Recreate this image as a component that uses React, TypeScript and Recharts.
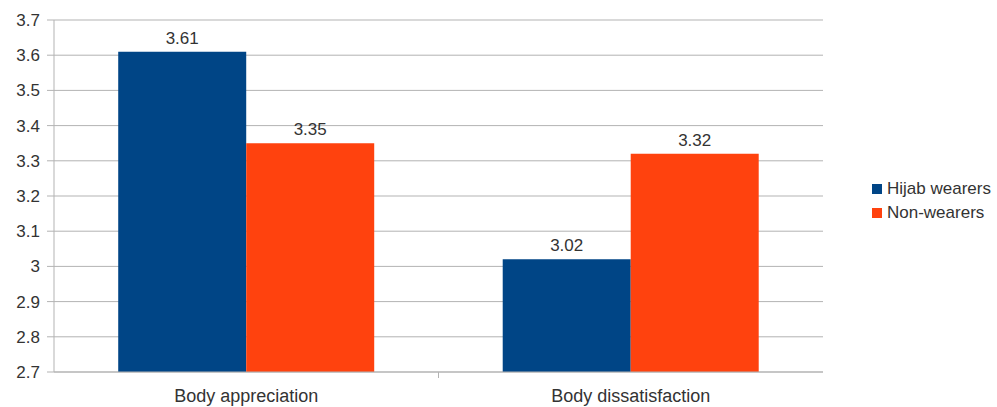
import React from "react";
import {
  BarChart,
  Bar,
  XAxis,
  YAxis,
  CartesianGrid,
  LabelList,
} from "recharts";

/* ------------------------------------------------------------------ */
/*  Data                                                               */
/* ------------------------------------------------------------------ */

const CATEGORIES = ["Body appreciation", "Body dissatisfaction"];
const HIJAB_WEARERS = [3.61, 3.02];
const NON_WEARERS = [3.35, 3.32];
const Y_TICKS = [2.7, 2.8, 2.9, 3, 3.1, 3.2, 3.3, 3.4, 3.5, 3.6, 3.7];

const SERIES = [
  { key: "hijab", name: "Hijab wearers", color: "#004586" },
  { key: "non", name: "Non-wearers", color: "#ff420e" },
];

const data = CATEGORIES.map((category, i) => ({
  category,
  hijab: HIJAB_WEARERS[i],
  non: NON_WEARERS[i],
}));

/* ------------------------------------------------------------------ */
/*  Styling                                                            */
/* ------------------------------------------------------------------ */

const FONT = "'Liberation Sans', Arial, sans-serif";
const TEXT = "#333333";
const GRID = "#b3b3b3";
const FONT_SIZE = 17;

/* Category label plus the small separator tick between categories */
function CategoryTick(props: any) {
  const { x, y, payload, index, width, visibleTicksCount } = props;
  const count = visibleTicksCount || CATEGORIES.length;
  const half = (width || 769) / count / 2;
  return (
    <g>
      {index < count - 1 && (
        <line x1={x + half} y1={y} x2={x + half} y2={y + 6} stroke={GRID} />
      )}
      <text
        x={x}
        y={y + 30}
        textAnchor="middle"
        fill={TEXT}
        fontSize={18}
        fontFamily={FONT}
      >
        {payload.value}
      </text>
    </g>
  );
}

function LegendBox() {
  return (
    <div
      style={{
        position: "absolute",
        left: 872,
        top: 177,
        fontFamily: FONT,
        fontSize: FONT_SIZE,
        color: TEXT,
      }}
    >
      {SERIES.map((s) => (
        <div
          key={s.key}
          style={{ display: "flex", alignItems: "center", height: 24 }}
        >
          <span
            style={{
              display: "inline-block",
              width: 10,
              height: 10,
              background: s.color,
              marginRight: 5,
            }}
          />
          {s.name}
        </div>
      ))}
    </div>
  );
}

/* ------------------------------------------------------------------ */
/*  Component                                                          */
/* ------------------------------------------------------------------ */

export default function App() {
  return (
    <div
      style={{
        position: "absolute",
        left: 0,
        top: 0,
        width: 997,
        height: 407,
        background: "#fff",
      }}
    >
      <BarChart
        width={997}
        height={407}
        data={data}
        margin={{ top: 20, right: 174, bottom: 5, left: 0 }}
        barCategoryGap="16.7%"
        barGap={0}
      >
        <CartesianGrid vertical={false} stroke={GRID} />
        <XAxis
          dataKey="category"
          height={30}
          axisLine={{ stroke: GRID }}
          tickLine={false}
          tickSize={0}
          tickMargin={0}
          tick={<CategoryTick />}
          interval={0}
        />
        <YAxis
          width={54}
          domain={[2.7, 3.7]}
          ticks={Y_TICKS}
          allowDataOverflow
          axisLine={{ stroke: GRID }}
          tickLine={{ stroke: GRID }}
          tickSize={7}
          tickMargin={7}
          tick={{ fill: TEXT, fontSize: FONT_SIZE, fontFamily: FONT }}
          tickFormatter={(v: number) => String(Number(v.toFixed(1)))}
        />
        <YAxis
          yAxisId="frame"
          orientation="right"
          width={0}
          axisLine={{ stroke: GRID }}
          tick={false}
          tickLine={false}
        />
        {SERIES.map((s) => (
          <Bar
            key={s.key}
            dataKey={s.key}
            name={s.name}
            fill={s.color}
            isAnimationActive={false}
          >
            <LabelList
              dataKey={s.key}
              position="top"
              offset={8}
              fill={TEXT}
              fontSize={FONT_SIZE}
              fontFamily={FONT}
            />
          </Bar>
        ))}
      </BarChart>
      <LegendBox />
    </div>
  );
}
